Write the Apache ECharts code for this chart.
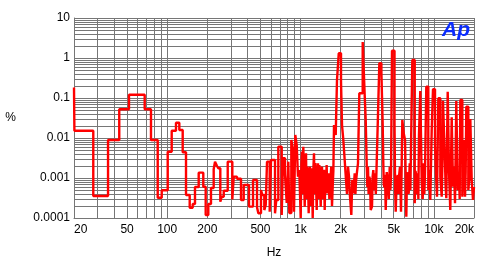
<!DOCTYPE html>
<html><head><meta charset="utf-8">
<script src="https://cdn.jsdelivr.net/npm/echarts@6.0.0/dist/echarts.min.js"></script>
<style>html,body{margin:0;padding:0;background:#fff}#c{width:490px;height:260px}</style>
</head><body><div id="c"></div>
<script>
const freqHz = [20,20.14,27.9,36.0,43.7,51.7,67.8,75.6,84.9,91.0,100.9,108.1,116.4,123.3,130.7,138.4,147.5,155.3,161.6,172.3,186.5,194.4,203.4,213.0,223.2,228.4,236.4,241.6,250.2,256.4,265.5,284.4,307.9,315.5,333.8,357.8,374.9,410.8,440.2,471.7,482.4,505.2,516.8,535.0,548.2,560.6,587.2,600.6,643.6,658.2,681.4,722.6,739.0,765.0,787.8,810.0,824.0,853.0,873.8,893.4,913.6,936.0,957.2,978.8,
1003,1015,1026,1038,1049,1062,1075,1087,1099,1112,1124,1138,1151,1165,1178,1191,1204,1219,1234,1248,1262,1276,1291,1306,1322,1337,1352,1367,1383,1400,1417,1433,1449,1465,1482,1500,1518,1535,1552,1570,1588,1607,1627,1645,1664,1682,1701,1722,1743,1763,1783,
1836,1877,1935,2012,2047,2094,2144,2193,2230,2270,2310,2350,2404,2445,2488,2549,2580,2606,2650,2698,2760,2926,3028,3082,3136,3170,3206,3240,3279,3320,3360,3436,3475,3515,3565,3618,3670,3727,3792,3900,4040,
4133,4176,4210,4250,4300,4355,4430,4508,4590,4666,4720,4772,4853,5068,5120,5175,5265,5357,5415,5477,5570,5671,5800,5942,6077,6145,6214,6290,6366,6475,6590,6665,6741,6894,7186,7285,7386,7475,7568,7650,7734,7910,8103,8245,8388,8480,8580,8775,9084,9240,9404,9634,9852,10200,10380,10560,10800,11180,11450,11580,11710,12120,12260,12400,12700,13000,13280,13610,13920,14160,14410,14730,15100,15440,15620,15790,16350,16550,16750,17130,17320,17510,18130,18570,18770,19220,19660,20000];
const thdPct = [0.183,0.0152,0.000355,0.00891,0.0522,0.121,0.0522,0.00891,0.000322,0.000493,0.00455,0.0152,0.0241,0.0158,0.00439,0.000376,0.000181,0.000224,0.000596,0.00136,0.000606,0.000119,0.000224,0.000562,0.00165,0.00256,0.002,0.00175,0.000256,0.000341,0.000481,0.00256,0.000293,0.00108,0.00096,0.000282,0.000668,0.000192,0.000891,0.000185,0.000131,0.000501,0.000376,0.000158,0.000211,0.00256,0.000144,0.00282,0.000131,0.000282,0.00606,0.000119,0.00311,0.00119,0.000237,0.00256,0.000133,0.00891,0.00562,0.000144,0.0119,0.00668,0.00108,0.00158,
0.0001,0.0022,0.00455,0.0004,0.00606,0.0012,0.000192,0.0028,0.00415,0.0003,0.00192,0.0009,0.000131,0.0014,0.00192,0.0002,0.00175,0.0011,0.0001,0.0016,0.00415,0.0004,0.00237,0.0009,0.000158,0.0012,0.00233,0.0003,0.00211,0.0011,0.000192,0.0013,0.00192,0.0003,0.000808,0.0016,0.000158,0.0011,0.000737,0.0021,0.000414,0.0009,0.00131,0.0003,0.000737,0.0011,0.00192,0.0002,0.000606,0.0015,0.0211,
0.0119,0.282,1.31,0.256,0.0211,0.00891,0.00282,0.000891,0.0004,0.00192,0.0011,0.000341,0.000119,0.0009,0.000414,0.00131,0.0004,0.000808,0.0014,0.00233,0.131,2.51,0.119,0.0282,0.00211,0.0006,0.00192,0.0004,0.00108,0.0009,0.000158,0.000192,0.0011,0.00158,0.0005,0.00131,0.0004,0.00256,0.0211,0.737,0.45,
0.0211,0.00237,0.0007,0.000596,0.0012,0.000158,0.0014,0.000891,0.0003,0.00192,0.0005,0.00119,1.52,0.0233,0.0006,0.000144,0.0009,0.00119,0.0004,0.00108,0.0019,0.000144,0.0282,0.0131,0.00891,0.0012,0.000108,0.0014,0.00108,0.0004,0.00233,0.0005,0.00606,0.891,0.000233,0.0015,0.00108,0.0004,0.00131,0.0003,0.0119,0.150,0.000891,0.0003,0.00233,0.0004,0.00131,0.192,0.000501,0.0016,0.000282,0.0158,0.165,0.00668,0.0012,0.000341,0.0983,0.00108,0.000341,0.0021,0.0856,0.00233,0.0006,0.000311,0.144,0.0014,0.000158,0.0329,0.000606,0.0019,0.000233,0.0841,0.000501,0.00108,0.0003,0.0891,0.000341,0.0018,0.00891,0.000341,0.0014,0.0606,0.000501,0.00119,0.0299,0.000891,0.000282,0.0006];
const xTickValues = [20,50,100,200,500,1000,2000,5000,10000,20000];
const xTickLabels = ['20','50','100','200','500','1k','2k','5k','10k','20k'];
const yTickValues = [0.0001,0.001,0.01,0.1,1,10];
const yTickLabels = ['0.0001','0.001','0.01','0.1','1','10'];
const xDecades = [10,100,1000,10000];
const yDecades = [0.0001,0.001,0.01,0.1,1];

const xGrid = [];
xDecades.forEach(d => { for (let m = 1; m <= 9; m++) { const v = +(d*m).toPrecision(6); if (v >= 20 && v <= 20000) xGrid.push(v); } });
xGrid.push(20000);
const yGrid = [];
yDecades.forEach(d => { for (let m = 1; m <= 9; m++) yGrid.push(+(d*m).toPrecision(6)); });
yGrid.push(10);

function lookup(vals, labels, v) {
  const i = vals.findIndex(t => Math.abs(t - v) / t < 1e-6);
  return i >= 0 ? labels[i] : '';
}
const gridColor = '#767676';
const font = '"Liberation Sans", Arial, sans-serif';

const chart = echarts.init(document.getElementById('c'), null, {renderer: 'canvas'});
chart.setOption({
  animation: false,
  backgroundColor: '#fff',
  grid: {left: 74, top: 18, width: 400, height: 200, outerBoundsMode: 'none', containLabel: false},
  xAxis: {
    type: 'log', logBase: 10, min: 20, max: 20000,
    name: 'Hz', nameLocation: 'middle', nameGap: 29,
    nameTextStyle: {color: '#000', fontSize: 12, fontFamily: font},
    axisLine: {show: true, lineStyle: {color: gridColor, width: 1}},
    axisTick: {show: false, customValues: xGrid},
    splitLine: {show: true, lineStyle: {color: gridColor, width: 1}},
    minorTick: {show: false}, minorSplitLine: {show: false},
    axisLabel: {
      customValues: xTickValues, margin: 6, color: '#000', fontSize: 12, fontFamily: font,
      alignMinLabel: 'left', alignMaxLabel: 'right',
      formatter: v => lookup(xTickValues, xTickLabels, v)
    }
  },
  yAxis: {
    type: 'log', logBase: 10, min: 0.0001, max: 10,
    name: '%', nameLocation: 'middle', nameGap: 58, nameRotate: 0,
    nameTextStyle: {color: '#000', fontSize: 12, fontFamily: font},
    axisLine: {show: true, lineStyle: {color: gridColor, width: 1}},
    axisTick: {show: false, customValues: yGrid},
    splitLine: {show: true, lineStyle: {color: gridColor, width: 1}},
    axisLabel: {
      customValues: yTickValues, margin: 4, color: '#000', fontSize: 12, fontFamily: font,
      formatter: v => lookup(yTickValues, yTickLabels, v)
    }
  },
  graphic: [{
    type: 'text', right: 20, top: 20, z: 100,
    style: {text: 'Ap', font: 'italic bold 21px "Liberation Sans", Arial', fill: '#0a2cff'}
  }],
  series: [{
    type: 'line', step: 'end', showSymbol: false, symbol: 'none', z: 10,
    clip: true,
    lineStyle: {color: '#ff0000', width: 2.4},
    data: freqHz.map((f, i) => [f, thdPct[i]])
  }]
});
</script></body></html>
